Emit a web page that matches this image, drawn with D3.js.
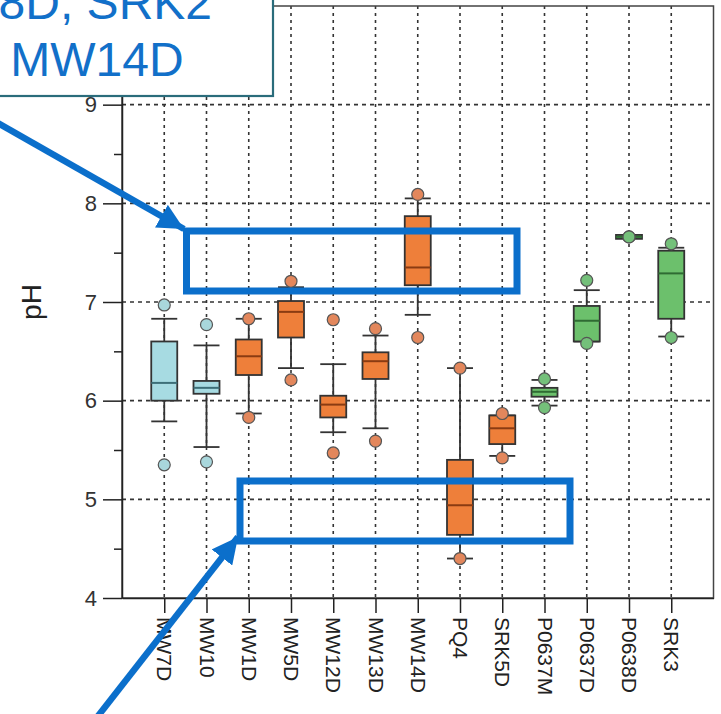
<!DOCTYPE html>
<html><head><meta charset="utf-8">
<script src="https://cdn.jsdelivr.net/npm/d3@7"></script>
<style>html,body{margin:0;padding:0;background:#fff;}svg{display:block;}</style>
</head><body>
<svg id="c" width="721" height="714"></svg>
<script>
const categories = ["MW7D","MW10","MW1D","MW5D","MW12D","MW13D","MW14D","PQ4","SRK5D","P0637M","P0637D","P0638D","SRK3"];
const groups     = ["blue","blue","orange","orange","orange","orange","orange","orange","orange","green","green","green","green"];
const whiskerLow  = [5.79,5.53,5.87,6.33,5.68,5.72,6.87,4.40,5.44,5.95,6.60,7.65,6.65];
const q1          = [6.00,6.07,6.26,6.64,5.83,6.22,7.17,4.64,5.56,6.04,6.60,7.64,6.83];
const median      = [6.18,6.13,6.45,6.90,5.96,6.40,7.35,4.94,5.72,6.09,6.81,7.66,7.29];
const q3          = [6.60,6.20,6.62,7.01,6.05,6.49,7.87,5.40,5.85,6.13,6.96,7.68,7.52];
const whiskerHigh = [6.83,6.56,6.83,7.15,6.37,6.66,8.05,6.33,5.85,6.21,7.12,7.67,7.55];
const outlierHigh = [6.97,6.77,6.83,7.21,6.82,6.73,8.09,6.33,5.87,6.22,7.22,7.66,7.59];
const outlierLow  = [5.35,5.38,5.83,6.21,5.47,5.59,6.64,4.40,5.42,5.93,6.58,7.66,6.64];
const yTicks = [4,5,6,7,8,9];
const yMinorTicks = [4.5,5.5,6.5,7.5,8.5,9.5];
const yLabel = "pH";
const noteLines = ["8D, SRK2","MW14D"];

const fills   = {blue:"#a7dbe2", orange:"#ee7f3a", green:"#6cc06c"};
const medians = {blue:"#3d6f78", orange:"#8a3b12", green:"#2f6b33"};
const ofills  = {blue:"#a9d7dc", orange:"#e3875c", green:"#74c07a"};

const svg = d3.select("#c");
const L=122, R=713.5, T=6, B=598;
const x = d3.scaleLinear().domain([0,14]).range([L,R]);
const y = d3.scaleLinear().domain([4,10]).range([B,T]);
const idx = d3.range(categories.length);

// grid
const g = svg.append("g");
g.selectAll(".hg").data([5,6,7,8,9]).join("line")
  .attr("x1",L).attr("x2",R).attr("y1",d=>y(d)).attr("y2",d=>y(d))
  .attr("stroke","#333").attr("stroke-width",1.6).attr("stroke-dasharray","4,4");
g.selectAll(".vg").data(idx).join("line")
  .attr("x1",i=>x(i+1)).attr("x2",i=>x(i+1)).attr("y1",T).attr("y2",B)
  .attr("stroke","#333").attr("stroke-width",1.6).attr("stroke-dasharray","3,4");

// frame
svg.append("rect").attr("x",L).attr("y",T).attr("width",R-L).attr("height",B-T)
  .attr("fill","none").attr("stroke","#444").attr("stroke-width",1.5);

// axes
const yAxis = d3.axisLeft(y).tickValues(yTicks).tickSize(19).tickSizeOuter(0).tickPadding(6).tickFormat(d3.format("d"));
const ya = svg.append("g").attr("transform",`translate(${L},0)`).call(yAxis);
ya.select(".domain").attr("stroke","#222").attr("stroke-width",1.5);
ya.selectAll(".tick line").attr("stroke","#222").attr("stroke-width",1.5);
ya.selectAll(".tick text").attr("font-family","Liberation Sans, Arial, sans-serif").attr("font-size",22).attr("fill","#333");
const yMinor = d3.axisLeft(y).tickValues(yMinorTicks).tickSize(8).tickSizeOuter(0).tickFormat("");
const ym = svg.append("g").attr("transform",`translate(${L},0)`).call(yMinor);
ym.select(".domain").remove();
ym.selectAll(".tick line").attr("stroke","#222").attr("stroke-width",1.5);

const xAxis = d3.axisBottom(x).tickValues(idx.map(i=>i+1)).tickSize(15).tickSizeOuter(0).tickFormat(d=>categories[d-1]);
const xa = svg.append("g").attr("transform",`translate(0,${B})`).call(xAxis);
xa.select(".domain").attr("stroke","#222").attr("stroke-width",1.5);
xa.selectAll(".tick line").attr("stroke","#222").attr("stroke-width",1.5);
xa.selectAll(".tick text")
  .attr("font-family","Liberation Sans, Arial, sans-serif").attr("font-size",21).attr("fill","#222")
  .attr("transform","rotate(90)").attr("text-anchor","start").attr("x",19).attr("y",0).attr("dy","0.35em");

svg.append("text").attr("transform",`translate(41,${y(7)}) rotate(-90)`)
  .attr("text-anchor","middle").attr("font-family","Liberation Sans, Arial, sans-serif")
  .attr("font-size",28).attr("fill","#222").text(yLabel);

// boxes
const bw = 26;
const bx = svg.append("g");
idx.forEach(i=>{
  const cx = x(i+1), k = groups[i];
  const gg = bx.append("g");
  gg.append("line").attr("x1",cx).attr("x2",cx).attr("y1",y(whiskerHigh[i])).attr("y2",y(q3[i])).attr("stroke","#333").attr("stroke-width",1.8);
  gg.append("line").attr("x1",cx).attr("x2",cx).attr("y1",y(q1[i])).attr("y2",y(whiskerLow[i])).attr("stroke","#333").attr("stroke-width",1.8);
  [whiskerHigh[i],whiskerLow[i]].forEach(v=>{
    gg.append("line").attr("x1",cx-bw/2).attr("x2",cx+bw/2).attr("y1",y(v)).attr("y2",y(v)).attr("stroke","#333").attr("stroke-width",1.8);
  });
  gg.append("rect").attr("x",cx-bw/2).attr("y",y(q3[i])).attr("width",bw).attr("height",Math.max(2,y(q1[i])-y(q3[i])))
    .attr("fill",fills[k]).attr("stroke","#333").attr("stroke-width",1.8);
  gg.append("line").attr("x1",cx-bw/2).attr("x2",cx+bw/2).attr("y1",y(median[i])).attr("y2",y(median[i])).attr("stroke",medians[k]).attr("stroke-width",2);
  [outlierHigh[i],outlierLow[i]].forEach(v=>{
    gg.append("circle").attr("cx",cx).attr("cy",y(v)).attr("r",6).attr("fill",ofills[k]).attr("stroke","#555").attr("stroke-width",1.2);
  });
});

// annotations
const blue = "#0b6fcb";
const ann = svg.append("g");
ann.append("rect").attr("x",186.5).attr("y",231).attr("width",517-186.5).attr("height",291-231)
  .attr("fill","none").attr("stroke",blue).attr("stroke-width",7);
ann.append("rect").attr("x",240).attr("y",481).attr("width",570-240).attr("height",541-481)
  .attr("fill","none").attr("stroke",blue).attr("stroke-width",7);
svg.append("defs").append("marker").attr("id","ah").attr("viewBox","0 0 10 10").attr("refX",10).attr("refY",5)
  .attr("markerWidth",4).attr("markerHeight",4).attr("markerUnits","strokeWidth").attr("orient","auto")
  .append("path").attr("d","M0,0 L10,5 L0,10 z").attr("fill",blue);
ann.append("line").attr("x1",-2).attr("y1",123).attr("x2",184).attr("y2",229)
  .attr("stroke",blue).attr("stroke-width",6.5).attr("marker-end","url(#ah)");
ann.append("line").attr("x1",98).attr("y1",716).attr("x2",238).attr("y2",537)
  .attr("stroke",blue).attr("stroke-width",6.5).attr("marker-end","url(#ah)");

// note box
svg.append("rect").attr("x",-3).attr("y",-3).attr("width",276).attr("height",99)
  .attr("fill","#fff").attr("stroke","#2a6c7b").attr("stroke-width",2.2);
svg.append("text").attr("x",212).attr("y",19).attr("text-anchor","end")
  .attr("font-family","Liberation Sans, Arial, sans-serif").attr("font-size",48).attr("fill","#1270c9").text(noteLines[0]);
svg.append("text").attr("x",97).attr("y",76).attr("text-anchor","middle")
  .attr("font-family","Liberation Sans, Arial, sans-serif").attr("font-size",48).attr("fill","#1270c9").text(noteLines[1]);
</script>
</body></html>
